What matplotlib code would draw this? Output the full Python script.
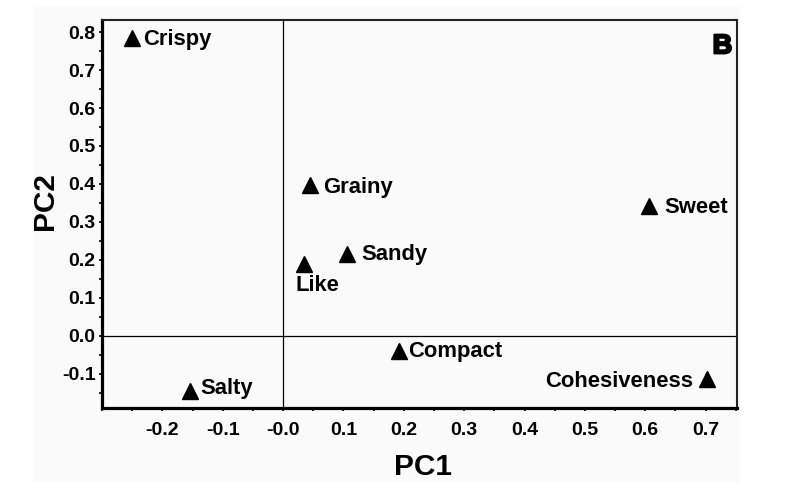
import matplotlib
matplotlib.use("Agg")
import matplotlib.pyplot as plt
import matplotlib.patheffects as pe
from matplotlib.patches import Rectangle
from matplotlib.ticker import MultipleLocator, FixedLocator, FixedFormatter

plt.rcParams['font.family'] = ['Liberation Sans', 'DejaVu Sans']
plt.rcParams['font.weight'] = 'bold'

# attribute loadings (PC1, PC2)
names = ['Crispy', 'Grainy', 'Sweet', 'Sandy', 'Like', 'Compact', 'Salty', 'Cohesiveness']
pc1 = [-0.251, 0.045, 0.606, 0.106, 0.034, 0.192, -0.154, 0.702]
pc2 = [0.785, 0.396, 0.343, 0.214, 0.190, -0.040, -0.146, -0.115]

xticks = [-0.2, -0.1, 0.0, 0.1, 0.2, 0.3, 0.4, 0.5, 0.6, 0.7]
xticklabels = ['-0.2', '-0.1', '-0.0', '0.1', '0.2', '0.3', '0.4', '0.5', '0.6', '0.7']
yticks = [-0.1, 0.0, 0.1, 0.2, 0.3, 0.4, 0.5, 0.6, 0.7, 0.8]
yticklabels = ['-0.1', '0.0', '0.1', '0.2', '0.3', '0.4', '0.5', '0.6', '0.7', '0.8']

# label placement in pixels relative to marker (dx, dy, ha)
offsets = {
    'Crispy': (11.7, -7, 'left'),
    'Grainy': (12.7, -8, 'left'),
    'Sweet': (15, -7.5, 'left'),
    'Sandy': (14, -5.5, 'left'),
    'Like': (-8.3, -27.2, 'left'),
    'Compact': (9.5, -6, 'left'),
    'Salty': (10.3, -3, 'left'),
    'Cohesiveness': (-13.4, -8, 'right'),
}

W, H = 804, 487
fig = plt.figure(figsize=(W / 100, H / 100), dpi=100)
fig.patch.set_facecolor('white')
fig.patches.append(Rectangle((33 / W, 1 - 482 / H), (740 - 33) / W, (482 - 7) / H,
                             transform=fig.transFigure, facecolor='#fafafa',
                             edgecolor='none', zorder=-10))

ax = fig.add_axes([102 / W, 1 - 407.7 / H, 635 / W, 387.7 / H])
ax.set_facecolor('none')
ax.set_xlim(-0.30, 0.752)
ax.set_ylim(-0.19, 0.832)

ax.axhline(0, color='black', lw=0.9, zorder=1)
ax.axvline(0, color='black', lw=0.9, zorder=1)

ax.plot(pc1, pc2, linestyle='none', marker='^', ms=11.5, color='black', zorder=3)
for n, x, y in zip(names, pc1, pc2):
    dx, dy, ha = offsets[n]
    ax.annotate(n, (x, y), xytext=(dx, dy), textcoords='offset pixels',
                ha=ha, va='baseline', fontsize=15.8, fontweight='bold')

ax.text(0.9926, 0.914, 'B', transform=ax.transAxes, ha='right', va='baseline',
        fontsize=19.5, fontweight='heavy',
        path_effects=[pe.withStroke(linewidth=1.6, foreground='black')])

ax.xaxis.set_major_locator(FixedLocator(xticks))
ax.xaxis.set_major_formatter(FixedFormatter(xticklabels))
ax.yaxis.set_major_locator(FixedLocator(yticks))
ax.yaxis.set_major_formatter(FixedFormatter(yticklabels))
ax.xaxis.set_minor_locator(MultipleLocator(0.05))
ax.yaxis.set_minor_locator(MultipleLocator(0.05))

ax.tick_params(which='both', direction='out', length=2.5, width=1.2, color='black')
ax.tick_params(axis='x', which='major', pad=7.5, labelsize=14)
ax.tick_params(axis='y', which='major', pad=2, labelsize=14)
for lab in ax.get_xticklabels() + ax.get_yticklabels():
    lab.set_fontweight('bold')
ax.tick_params(top=False, right=False, which='both')

for side in ['left', 'bottom']:
    ax.spines[side].set_linewidth(2.3)
for side in ['top', 'right']:
    ax.spines[side].set_linewidth(1.5)
    ax.spines[side].set_color('#222222')

ax.set_xlabel('PC1', fontsize=21.5, fontweight='bold', va='baseline')
ax.xaxis.set_label_coords((423 - 102) / 635, (407.7 - 475) / 387.7)
ax.set_ylabel('PC2', fontsize=21.5, fontweight='bold', va='center')
ax.yaxis.set_label_coords((45 - 102) / 635, (407.7 - 201) / 387.7)

fig.savefig('out.png', dpi=100)
